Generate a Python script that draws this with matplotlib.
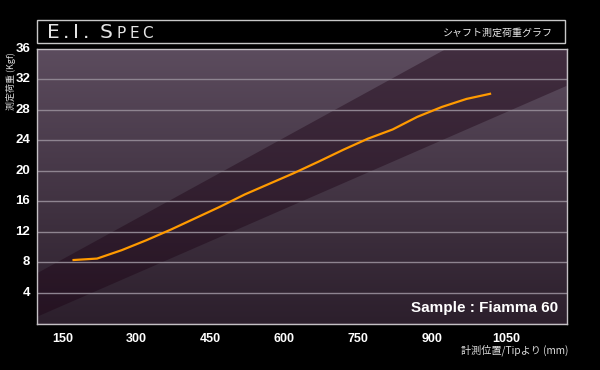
import matplotlib
matplotlib.use("Agg")
import matplotlib.pyplot as plt
import numpy as np
from matplotlib.patches import Rectangle, Polygon
from matplotlib import font_manager

# ---- data ----
positions_mm = [170, 220, 270, 320, 370, 420, 470, 520, 570, 620, 670, 720, 770, 820, 870, 920, 970, 1020]
load_kgf = [8.3, 8.5, 9.6, 10.9, 12.3, 13.8, 15.3, 16.9, 18.3, 19.7, 21.2, 22.75, 24.2, 25.4, 27.05, 28.35, 29.4, 30.1]
x_ticks = [150, 300, 450, 600, 750, 900, 1050]
y_ticks = [4, 8, 12, 16, 20, 24, 28, 32, 36]
title_main = "E.I. S"
title_small = "PEC"
subtitle = "シャフト測定荷重グラフ"
y_label = "測定荷重 (Kgf)"
x_label = "計測位置/Tipより (mm)"
sample_label = "Sample : Fiamma 60"

avail = {f.name for f in font_manager.fontManager.ttflist}
num_font = "Liberation Sans Narrow" if "Liberation Sans Narrow" in avail else "Liberation Sans"
jp = ["Noto Sans CJK JP", "DejaVu Sans"]

W, H = 600, 370
fig = plt.figure(figsize=(6, 3.7), dpi=100, facecolor="black")

def fx(px):
    return px / W

def fy(py):
    return 1 - py / H

ax = fig.add_axes([fx(37), fy(323.5), fx(566.5) - fx(37), fy(48.5) - fy(323.5)])
ax.set_facecolor("#3a2d3b")
xlim = (98, 1173)
ylim = (0, 36)
ax.set_xlim(*xlim)
ax.set_ylim(*ylim)

# vertical gradient background
top = np.array([0x5c, 0x4c, 0x5e]) / 255
bot = np.array([0x2c, 0x1f, 0x2c]) / 255
t = np.linspace(0, 1, 256)[:, None]
grad = (bot * (1 - t) + top * t)[:, None, :]
grad = np.repeat(grad, 2, axis=1)
ax.imshow(grad, extent=(*xlim, *ylim), origin="lower", aspect="auto", zorder=0,
          interpolation="bilinear")

# diagonal darker band (decorative)
upper_line = [(98, 6.57), (930, 36)]
lower_line = [(98, 0.88), (1173, 31.1)]
poly = Polygon([upper_line[0], upper_line[1], (1173, 36), lower_line[1], lower_line[0]],
               closed=True, facecolor="#1a0012", alpha=0.4, edgecolor="none", zorder=1)
ax.add_patch(poly)

# gridlines
for yv in y_ticks[:-1]:
    ax.axhline(yv, color="#8e8490", lw=1.0, zorder=2)

# curve
ax.plot(positions_mm, load_kgf, color="#ff9a00", lw=1.6, zorder=4, solid_capstyle="butt")

for s in ax.spines.values():
    s.set_color("#c4c0c4")
    s.set_linewidth(1.0)
    s.set_zorder(5)

ax.set_xticks(x_ticks)
ax.set_yticks(y_ticks)
ax.tick_params(length=0)
ax.set_xticklabels([str(v) for v in x_ticks], color="white", fontsize=9,
                   fontweight="bold", family=num_font)
ax.set_yticklabels([str(v) for v in y_ticks], color="white", fontsize=9.5,
                   fontweight="bold", family=num_font)
for lab in ax.get_yticklabels():
    lab.set_verticalalignment("center")
ax.tick_params(axis="y", pad=5)
ax.tick_params(axis="x", pad=7)

ax.text(0.985, 0.055, sample_label, transform=ax.transAxes, ha="right", va="center",
        color="white", fontsize=11, fontweight="bold", family="Liberation Sans", zorder=6)

# header box
fig.patches.append(Rectangle((fx(36.7), fy(43.3)), fx(565) - fx(36.7), fy(20) - fy(43.3),
                             transform=fig.transFigure, facecolor="black",
                             edgecolor="#c8c8c8", lw=1.0))

# title drawn letter by letter with wide tracking (small caps style)
fig.canvas.draw()
renderer = fig.canvas.get_renderer()
pieces = [(c, 14.5) for c in title_main] + [(c, 11) for c in title_small]
start_x, end_x = 47.0, 153.0
texts, widths = [], []
for ch, size in pieces:
    tt = fig.text(0, fy(38), ch, color="#e4e4e4", fontsize=size,
                  family="DejaVu Sans", va="baseline", ha="left")
    texts.append(tt)
    widths.append(4.0 if ch == " " else tt.get_window_extent(renderer).width)
gap = (end_x - start_x - sum(widths)) / (len(pieces) - 1)
cur_x = start_x
for tt, w in zip(texts, widths):
    tt.set_x(fx(cur_x))
    cur_x += w + gap

fig.text(fx(553), fy(32.5), subtitle, color="#e8e8e8", fontsize=7.2, family=jp,
         ha="right", va="center")

# axis labels
fig.text(fx(11), fy(52), y_label, color="#dddddd", fontsize=6.5, family=jp,
         rotation=90, ha="center", va="top")
fig.text(fx(568), fy(350), x_label, color="#dddddd", fontsize=7.3, family=jp,
         ha="right", va="center")

fig.savefig("out.png", dpi=100, facecolor="black")
